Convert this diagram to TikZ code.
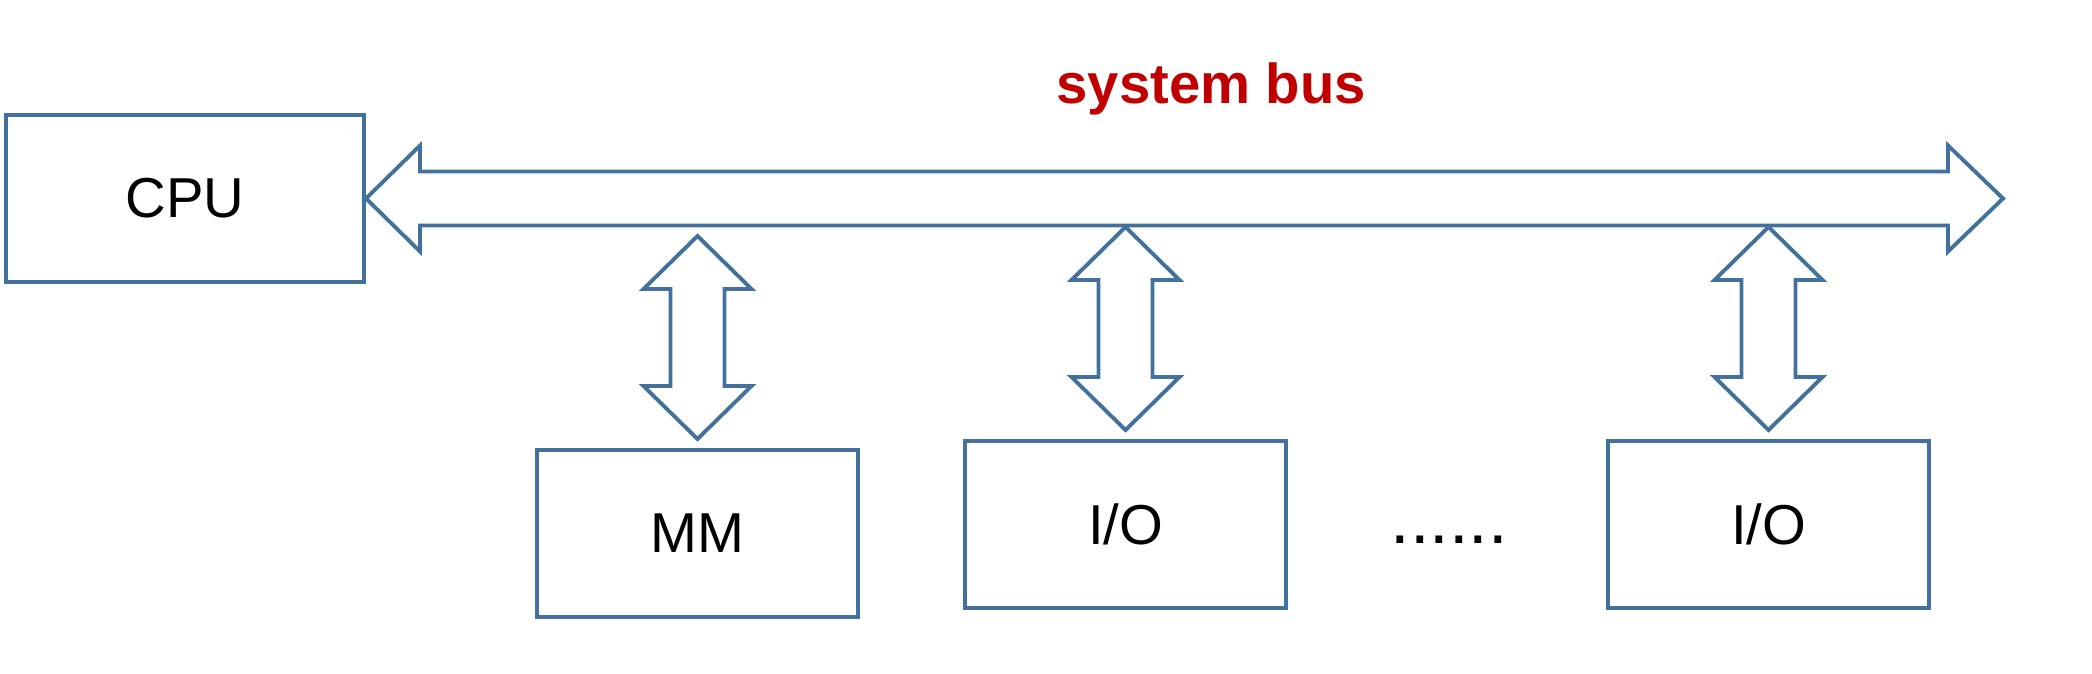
\documentclass[tikz,border=0pt]{standalone}
\usepackage{fontspec}
\setmainfont{Liberation Sans}
\usepackage{xcolor}
\usetikzlibrary{calc}

\definecolor{boxblue}{HTML}{41719C}
\definecolor{busred}{HTML}{C00000}

\tikzset{
    unit/.style={draw=boxblue, line width=1.1pt, minimum width=3.21cm, minimum height=1.67cm, font=\fontsize{16}{19}\selectfont},
    busline/.style={draw=boxblue, line width=1.1pt, line join=miter},
}

% double arrow, tips at #1 (left) and #2 (right)
\newcommand{\dblarrowH}[2]{%
    \draw[busline] (#1) -- ($(#1)+(54,-53)$) -- ($(#1)+(54,-27)$) -- ($(#2)+(-55,-27)$) -- ($(#2)+(-55,-53)$) -- (#2)
        -- ($(#2)+(-55,53)$) -- ($(#2)+(-55,27)$) -- ($(#1)+(54,27)$) -- ($(#1)+(54,53)$) -- cycle;}
% double arrow, tips at #1 (top) and #2 (bottom)
\newcommand{\dblarrowV}[2]{%
    \draw[busline] (#1) -- ($(#1)+(54,53)$) -- ($(#1)+(27,53)$) -- ($(#2)+(27,-53)$) -- ($(#2)+(54,-53)$) -- (#2)
        -- ($(#2)+(-54,-53)$) -- ($(#2)+(-27,-53)$) -- ($(#1)+(-27,53)$) -- ($(#1)+(-54,53)$) -- cycle;}

\begin{document}
\begin{tikzpicture}[x=0.01cm, y=-0.01cm]
        \useasboundingbox (0,0) rectangle (2092,674);
        % units
        \node[unit, minimum width=3.58cm] (cpu) at (185,198.5) {CPU};
        \node[unit] (mm) at (697.5,533.5) {MM};
        \node[unit] (io1) at (1125.5,524.5) {I/O};
        \node[unit] (io2) at (1768.5,524.5) {I/O};
        \node[font=\fontsize{20}{24}\selectfont, anchor=base west] (dots) at (1378,544) {......};
        % bus
        \coordinate (busend) at (2003,198.5);
        \dblarrowH{cpu.east}{busend}
        \node[text=busred, font=\fontsize{16}{19}\selectfont\bfseries, anchor=base west] (buslabel) at (1044,104) {system bus};
        % links to the bus
        \coordinate (mmtop) at ($(mm.north)+(0,-212)$);
        \coordinate (mmbot) at ($(mm.north)+(0,-9)$);
        \dblarrowV{mmtop}{mmbot}
        \coordinate (iotopa) at ($(io1.north)+(0,-212)$);
        \coordinate (iobota) at ($(io1.north)+(0,-9)$);
        \dblarrowV{iotopa}{iobota}
        \coordinate (iotopb) at ($(io2.north)+(0,-212)$);
        \coordinate (iobotb) at ($(io2.north)+(0,-9)$);
        \dblarrowV{iotopb}{iobotb}
    \end{tikzpicture}
\end{document}
